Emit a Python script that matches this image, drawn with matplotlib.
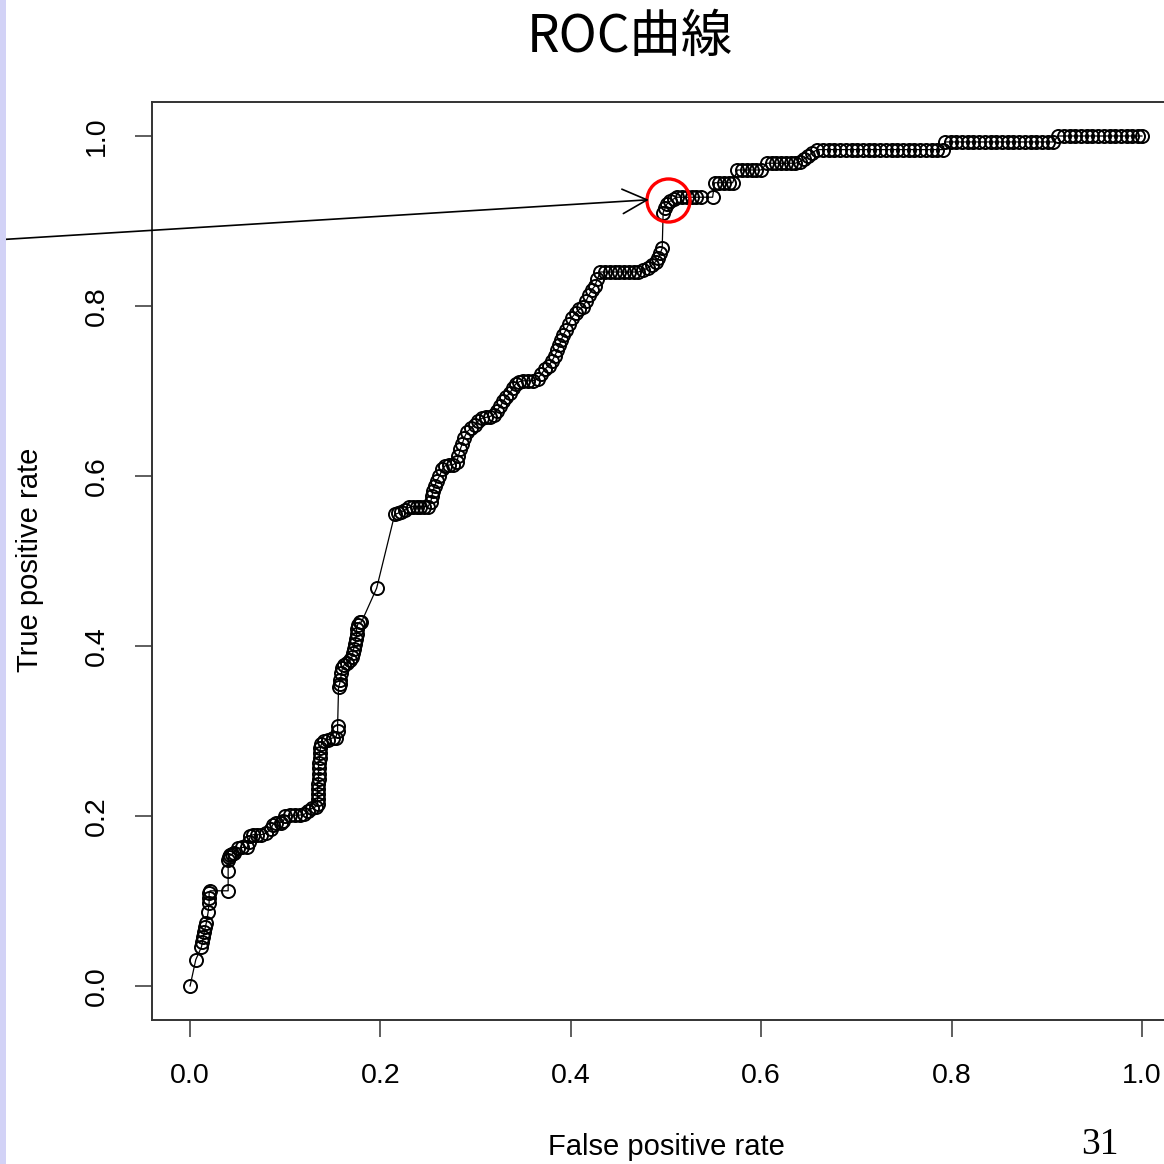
import matplotlib

matplotlib.use("Agg")
import matplotlib.pyplot as plt
from matplotlib.patches import Rectangle

# ROC curve points
fpr = [
    0.000, 0.006, 0.012, 0.013, 0.014, 0.015, 0.016, 0.017, 0.019, 0.020,
    0.020, 0.020, 0.021, 0.040, 0.040, 0.040, 0.041, 0.042, 0.044, 0.046,
    0.050, 0.055, 0.060, 0.062, 0.063, 0.066, 0.070, 0.075, 0.080, 0.085,
    0.087, 0.090, 0.095, 0.098, 0.100, 0.105, 0.110, 0.115, 0.120, 0.124,
    0.128, 0.132, 0.134, 0.134, 0.134, 0.134, 0.134, 0.135, 0.135, 0.135,
    0.135, 0.136, 0.136, 0.137, 0.138, 0.141, 0.145, 0.150, 0.153, 0.155,
    0.155, 0.156, 0.157, 0.158, 0.159, 0.160, 0.162, 0.165, 0.168, 0.170,
    0.171, 0.172, 0.173, 0.174, 0.175, 0.175, 0.176, 0.178, 0.180, 0.196,
    0.215, 0.218, 0.222, 0.226, 0.230, 0.234, 0.238, 0.242, 0.246, 0.250,
    0.253, 0.254, 0.255, 0.257, 0.259, 0.262, 0.265, 0.268, 0.272, 0.276,
    0.280, 0.282, 0.284, 0.286, 0.288, 0.291, 0.295, 0.299, 0.303, 0.307,
    0.311, 0.315, 0.319, 0.322, 0.326, 0.329, 0.332, 0.336, 0.339, 0.342,
    0.346, 0.350, 0.355, 0.360, 0.365, 0.369, 0.373, 0.377, 0.380, 0.383,
    0.386, 0.388, 0.390, 0.392, 0.395, 0.398, 0.401, 0.405, 0.409, 0.413,
    0.416, 0.419, 0.422, 0.425, 0.428, 0.431, 0.436, 0.441, 0.446, 0.451,
    0.456, 0.461, 0.466, 0.471, 0.476, 0.481, 0.485, 0.489, 0.492, 0.494,
    0.496, 0.497, 0.499, 0.501, 0.504, 0.508, 0.512, 0.517, 0.522, 0.527,
    0.532, 0.537, 0.549, 0.551, 0.556, 0.561, 0.566, 0.570, 0.575, 0.580,
    0.585, 0.590, 0.595, 0.600, 0.606, 0.611, 0.616, 0.621, 0.626, 0.631,
    0.636, 0.641, 0.645, 0.649, 0.653, 0.659, 0.665, 0.671, 0.677, 0.683,
    0.689, 0.695, 0.701, 0.707, 0.713, 0.719, 0.725, 0.731, 0.737, 0.743,
    0.749, 0.755, 0.761, 0.767, 0.773, 0.779, 0.785, 0.791, 0.793, 0.799,
    0.805, 0.811, 0.817, 0.823, 0.829, 0.835, 0.841, 0.847, 0.853, 0.859,
    0.865, 0.871, 0.877, 0.883, 0.889, 0.895, 0.901, 0.907, 0.912, 0.918,
    0.924, 0.930, 0.936, 0.942, 0.948, 0.954, 0.960, 0.966, 0.972, 0.978,
    0.984, 0.990, 0.996, 1.000,
]
tpr = [
    0.000, 0.031, 0.046, 0.052, 0.058, 0.064, 0.069, 0.074, 0.087, 0.098,
    0.104, 0.109, 0.112, 0.112, 0.135, 0.148, 0.152, 0.154, 0.155, 0.157,
    0.162, 0.163, 0.163, 0.170, 0.176, 0.178, 0.178, 0.178, 0.180, 0.185,
    0.190, 0.192, 0.192, 0.194, 0.200, 0.201, 0.201, 0.201, 0.202, 0.206,
    0.209, 0.211, 0.214, 0.220, 0.226, 0.232, 0.238, 0.244, 0.250, 0.256,
    0.262, 0.268, 0.274, 0.280, 0.285, 0.288, 0.290, 0.292, 0.292, 0.300,
    0.306, 0.352, 0.355, 0.360, 0.368, 0.374, 0.378, 0.380, 0.383, 0.387,
    0.392, 0.397, 0.402, 0.408, 0.414, 0.420, 0.425, 0.428, 0.428, 0.468,
    0.555, 0.556, 0.558, 0.560, 0.563, 0.564, 0.564, 0.564, 0.564, 0.564,
    0.570, 0.576, 0.582, 0.588, 0.594, 0.600, 0.608, 0.612, 0.613, 0.613,
    0.616, 0.624, 0.632, 0.638, 0.645, 0.652, 0.656, 0.660, 0.665, 0.668,
    0.669, 0.670, 0.672, 0.677, 0.682, 0.688, 0.693, 0.698, 0.703, 0.708,
    0.711, 0.712, 0.712, 0.712, 0.714, 0.720, 0.726, 0.730, 0.735, 0.741,
    0.748, 0.754, 0.760, 0.766, 0.772, 0.779, 0.786, 0.792, 0.796, 0.799,
    0.806, 0.813, 0.819, 0.823, 0.832, 0.840, 0.840, 0.840, 0.840, 0.840,
    0.840, 0.840, 0.840, 0.840, 0.842, 0.845, 0.848, 0.852, 0.856, 0.862,
    0.868, 0.910, 0.915, 0.920, 0.923, 0.926, 0.928, 0.928, 0.928, 0.928,
    0.928, 0.928, 0.928, 0.945, 0.945, 0.945, 0.945, 0.945, 0.960, 0.960,
    0.960, 0.960, 0.960, 0.960, 0.968, 0.968, 0.968, 0.968, 0.968, 0.968,
    0.968, 0.970, 0.973, 0.976, 0.980, 0.984, 0.984, 0.984, 0.984, 0.984,
    0.984, 0.984, 0.984, 0.984, 0.984, 0.984, 0.984, 0.984, 0.984, 0.984,
    0.984, 0.984, 0.984, 0.984, 0.984, 0.984, 0.984, 0.984, 0.993, 0.993,
    0.993, 0.993, 0.993, 0.993, 0.993, 0.993, 0.993, 0.993, 0.993, 0.993,
    0.993, 0.993, 0.993, 0.993, 0.993, 0.993, 0.993, 0.993, 1.000, 1.000,
    1.000, 1.000, 1.000, 1.000, 1.000, 1.000, 1.000, 1.000, 1.000, 1.000,
    1.000, 1.000, 1.000, 1.000,
]
ticks = [0.0, 0.2, 0.4, 0.6, 0.8, 1.0]
tick_labels = ["0.0", "0.2", "0.4", "0.6", "0.8", "1.0"]
highlight = (0.502, 0.925)      # circled threshold
arrow_from = (-0.2, 0.878)

W = 1164
fig = plt.figure(figsize=(11.64, 11.64), dpi=100)
fig.patch.set_facecolor("white")

# lavender strip on the slide's left edge
fig.add_artist(Rectangle((0, 0), 6 / W, 1, transform=fig.transFigure,
                         facecolor="#d2d2f6", edgecolor="none"))

# axes box runs past the slide's right edge (R plot cropped)
ax = fig.add_axes([152 / W, 144 / W, 1028 / W, 918 / W])
ax.plot(fpr, tpr, "-", color="black", lw=0.9, marker="o", ms=9.4,
        mfc="none", mec="black", mew=1.4)
ax.set_xlim(-0.04, 1.04)
ax.set_ylim(-0.04, 1.04)

ax.set_xticks(ticks)
ax.set_xticklabels(tick_labels, family="Liberation Sans", fontsize=20.5)
ax.set_yticks(ticks)
ax.set_yticklabels(tick_labels, family="Liberation Sans", fontsize=20.5,
                   rotation=90, va="center")
ax.tick_params(axis="both", direction="out", length=12, width=1.1,
               color="#333333")
ax.tick_params(axis="x", pad=19)
ax.tick_params(axis="y", pad=18)
for sp in ax.spines.values():
    sp.set_linewidth(1.4)
    sp.set_color("#333333")

# red circle + arrow pointing at it
ax.plot(*highlight, "o", ms=31, mfc="none", mec="red", mew=2.4, clip_on=False)
ax.annotate("", xy=(0.482, 0.925), xytext=arrow_from, annotation_clip=False,
            arrowprops=dict(arrowstyle="->,head_length=1.1,head_width=0.55",
                            color="black", lw=1.2, mutation_scale=16,
                            shrinkA=0, shrinkB=0))

fig.text(630 / W, 1 - 37 / W, "ROC曲線", ha="center", va="center",
         fontsize=37, family=["Noto Sans CJK JP", "DejaVu Sans"])
fig.text(666 / W, 1 - 1147 / W, "False positive rate", ha="center",
         va="center", fontsize=21, family="Liberation Sans")
fig.text(30 / W, 1 - 560 / W, "True positive rate", ha="center",
         va="center", rotation=90, fontsize=21, family="Liberation Sans")
fig.text(1100 / W, 1 - 1145 / W, "31", ha="center", va="center",
         fontsize=27, family="Liberation Serif")

fig.savefig("out.png", dpi=100)
